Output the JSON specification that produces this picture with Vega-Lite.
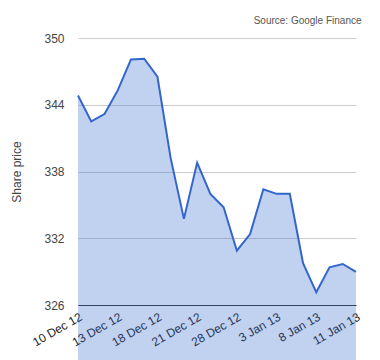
{
  "$schema": "https://vega.github.io/schema/vega-lite/v6.json",
  "width": 278,
  "height": 267,
  "autosize": {"type": "none"},
  "padding": {"left": 78, "top": 38, "right": 24, "bottom": 55},
  "background": "white",
  "config": {"view": {"stroke": null}, "font": "Liberation Sans"},
  "title": {"text": "Source: Google Finance", "anchor": "end", "fontSize": 10, "fontWeight": "normal", "color": "#555555", "offset": 6, "font": "Liberation Sans"},
  "data": {"values": [
    {"d": "10 Dec 12", "p": 344.83},
    {"d": "11 Dec 12", "p": 342.5},
    {"d": "12 Dec 12", "p": 343.16},
    {"d": "13 Dec 12", "p": 345.29},
    {"d": "14 Dec 12", "p": 348.07},
    {"d": "17 Dec 12", "p": 348.14},
    {"d": "18 Dec 12", "p": 346.52},
    {"d": "19 Dec 12", "p": 339.2},
    {"d": "20 Dec 12", "p": 333.74},
    {"d": "21 Dec 12", "p": 338.8},
    {"d": "26 Dec 12", "p": 335.99},
    {"d": "27 Dec 12", "p": 334.79},
    {"d": "28 Dec 12", "p": 330.88},
    {"d": "31 Dec 12", "p": 332.38},
    {"d": "2 Jan 13", "p": 336.41},
    {"d": "3 Jan 13", "p": 335.99},
    {"d": "4 Jan 13", "p": 335.99},
    {"d": "7 Jan 13", "p": 329.75},
    {"d": "8 Jan 13", "p": 327.14},
    {"d": "9 Jan 13", "p": 329.39},
    {"d": "10 Jan 13", "p": 329.69},
    {"d": "11 Jan 13", "p": 328.97}
  ]},
  "mark": {"type": "area", "color": "#3366cc", "fillOpacity": 0.3, "line": {"color": "#3366cc", "strokeWidth": 2}},
  "encoding": {
    "x": {
      "field": "d", "type": "ordinal", "sort": null,
      "scale": {"type": "point", "padding": 0},
      "axis": {
        "title": null,
        "values": ["10 Dec 12", "13 Dec 12", "18 Dec 12", "21 Dec 12", "28 Dec 12", "3 Jan 13", "8 Jan 13", "11 Jan 13"],
        "labelAngle": -30, "labelAlign": "right", "labelBaseline": "top",
        "labelFontSize": 12, "labelColor": "#222222", "labelPadding": 6,
        "ticks": false, "tickSize": 0, "domainColor": "#333333", "domainWidth": 1,
        "grid": false, "labelOverlap": false, "labelFont": "Liberation Sans"
      }
    },
    "y": {
      "field": "p", "type": "quantitative",
      "scale": {"domain": [326, 350], "nice": false, "zero": false},
      "axis": {
        "title": "Share price", "titleFontSize": 12, "titleFontWeight": "normal", "titleColor": "#444444", "titlePadding": 20, "titleFont": "Liberation Sans",
        "values": [326, 332, 338, 344, 350],
        "labelFontSize": 12, "labelColor": "#444444", "labelPadding": 14, "labelFont": "Liberation Sans",
        "ticks": false, "tickSize": 0, "domain": false,
        "grid": true, "gridColor": "#cccccc"
      }
    }
  }
}
